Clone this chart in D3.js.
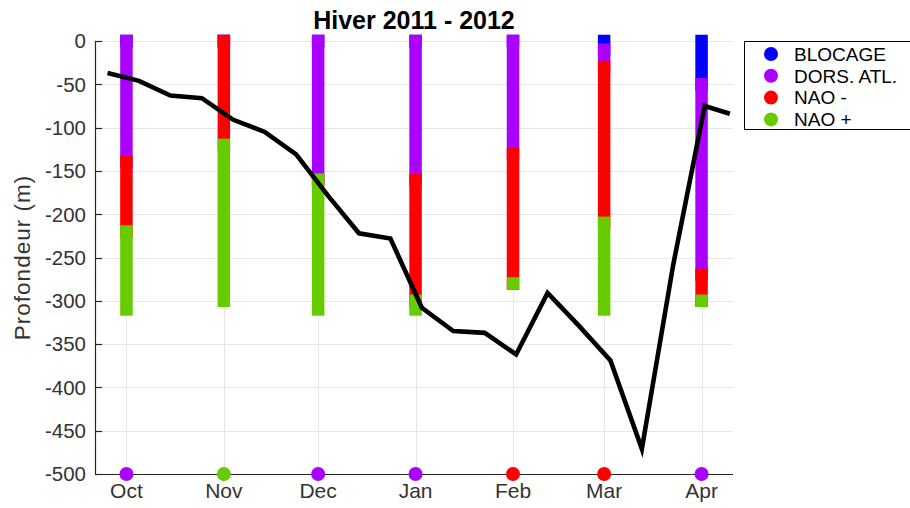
<!DOCTYPE html>
<html>
<head>
<meta charset="utf-8">
<script src="https://cdn.jsdelivr.net/npm/d3@7"></script>
<style>
  html, body { margin: 0; padding: 0; background: #fff; }
  svg { display: block; font-family: "Liberation Sans", Arial, Helvetica, sans-serif; }
</style>
</head>
<body>
<svg id="chart" width="910" height="508"></svg>
<script>
// Monthly weather-regime day counts, winter 2011-2012
const months = ["Oct", "Nov", "Dec", "Jan", "Feb", "Mar", "Apr"];
const monthStarts = ["2011-10-01", "2011-11-01", "2011-12-01", "2012-01-01", "2012-02-01", "2012-03-01", "2012-04-01"];
const regimes = ["BLOCAGE", "DORS. ATL.", "NAO -", "NAO +"];
const regimeColors = ["#0000ff", "#aa00ff", "#ff0000", "#66cc00"];
const blocage  = [0, 0, 0, 0, 0, 1, 5];
const dorsAtl  = [14, 0, 16, 16, 13, 2, 22];
const naoMoins = [8, 12, 0, 14, 15, 18, 3];
const naoPlus  = [9, 18, 15, 1, 0, 10, 0];
const metresPerDay = 10; // one regime day is drawn as 10 m of bar

// Mixed-layer depth every ten days (m)
const depthDates = ["2011-09-25", "2011-10-05", "2011-10-15", "2011-10-25", "2011-11-04", "2011-11-14",
  "2011-11-24", "2011-12-04", "2011-12-14", "2011-12-24", "2012-01-03", "2012-01-13", "2012-01-23",
  "2012-02-02", "2012-02-12", "2012-02-22", "2012-03-03", "2012-03-13", "2012-03-23", "2012-04-02", "2012-04-10"];
const depth = [-37, -46, -63, -66, -91, -105, -131, -178, -222, -228, -308, -335, -337,
  -362, -291, -329, -369, -471, -258, -75, -84];

const yTicks = d3.range(-500, 1, 50);
const title = "Hiver 2011 - 2012";
const yTitle = "Profondeur (m)";

const svg = d3.select("#chart");
const parse = d3.utcParse("%Y-%m-%d");
const plotLeft = 95, plotRight = 733, plotTop = 41, plotBottom = 474;

const x = d3.scaleUtc()
  .domain([parse("2011-09-21"), parse("2012-04-11")])
  .range([plotLeft, plotRight]);
const y = d3.scaleLinear().domain([-500, 0]).range([plotBottom, plotTop]);

// grid
const grid = svg.append("g").attr("stroke", "#e6e6e6").attr("stroke-width", 1);
grid.selectAll("line.h").data(yTicks).join("line").attr("class", "h")
  .attr("x1", plotLeft).attr("x2", plotRight)
  .attr("y1", d => Math.round(y(d)) + 0.5).attr("y2", d => Math.round(y(d)) + 0.5);
grid.selectAll("line.v").data(monthStarts).join("line").attr("class", "v")
  .attr("x1", d => Math.round(x(parse(d))) + 0.5).attr("x2", d => Math.round(x(parse(d))) + 0.5)
  .attr("y1", plotTop).attr("y2", plotBottom);

// stacked regime bars: each segment is a thick stroke with square caps
const series = [blocage, dorsAtl, naoMoins, naoPlus];
const barW = 12.5, cap = barW / 2;
const bars = svg.append("g");
months.forEach((m, i) => {
  let acc = 0;
  series.forEach((s, k) => {
    const start = -acc * metresPerDay;
    acc += s[i];
    const end = -acc * metresPerDay;
    const cx = x(parse(monthStarts[i]));
    const y0 = y(start) - cap, y1 = y(end) + cap;
    bars.append("rect")
      .attr("x", cx - barW / 2).attr("width", barW)
      .attr("y", y0).attr("height", y1 - y0)
      .attr("fill", regimeColors[k]);
  });
});

// depth line
const line = d3.line()
  .x((d, i) => x(parse(depthDates[i])))
  .y(d => y(d));
svg.append("path")
  .datum(depth)
  .attr("d", line)
  .attr("fill", "none")
  .attr("stroke", "#000")
  .attr("stroke-width", 4.6)
  .attr("stroke-linejoin", "miter");

// axes
const axisColor = "#262626";
svg.append("line").attr("x1", plotLeft + 0.5).attr("x2", plotLeft + 0.5).attr("y1", plotTop).attr("y2", plotBottom)
  .attr("stroke", axisColor).attr("stroke-width", 1.2);
svg.append("line").attr("x1", plotLeft).attr("x2", plotRight).attr("y1", plotBottom + 0.5).attr("y2", plotBottom + 0.5)
  .attr("stroke", axisColor).attr("stroke-width", 1.2);
svg.append("g").selectAll("line").data(yTicks).join("line")
  .attr("x1", plotLeft).attr("x2", plotLeft + 7)
  .attr("y1", d => Math.round(y(d)) + 0.5).attr("y2", d => Math.round(y(d)) + 0.5)
  .attr("stroke", axisColor).attr("stroke-width", 1.2);
svg.append("g").selectAll("text").data(yTicks).join("text")
  .attr("x", 86).attr("y", d => y(d)).attr("dy", "0.36em")
  .attr("text-anchor", "end").attr("font-size", 20.5).attr("fill", "#333")
  .text(d => d);
svg.append("g").selectAll("text").data(months).join("text")
  .attr("x", (d, i) => x(parse(monthStarts[i]))).attr("y", 498)
  .attr("text-anchor", "middle").attr("font-size", 21).attr("fill", "#333")
  .text(d => d);

// dominant regime marker per month
svg.append("g").selectAll("circle").data(months).join("circle")
  .attr("cx", (d, i) => x(parse(monthStarts[i])))
  .attr("cy", y(-500))
  .attr("r", 7)
  .attr("fill", (d, i) => {
    const vals = series.map(s => s[i]);
    return regimeColors[vals.indexOf(d3.max(vals))];
  });

// titles
svg.append("text").attr("x", (plotLeft + plotRight) / 2).attr("y", 29)
  .attr("text-anchor", "middle").attr("font-size", 25).attr("font-weight", "bold")
  .attr("fill", "#000").text(title);
svg.append("text").attr("transform", `translate(30,${(plotTop + plotBottom) / 2}) rotate(-90)`)
  .attr("text-anchor", "middle").attr("font-size", 22.5).attr("letter-spacing", 1)
  .attr("fill", "#333")
  .text(yTitle);

// legend
const lg = svg.append("g");
lg.append("rect").attr("x", 744.5).attr("y", 41.5).attr("width", 180).attr("height", 88)
  .attr("fill", "#fff").attr("stroke", "#000").attr("stroke-width", 1);
regimes.forEach((r, k) => {
  const cy = 54 + k * 21.8;
  lg.append("circle").attr("cx", 771).attr("cy", cy).attr("r", 7).attr("fill", regimeColors[k]);
  lg.append("text").attr("x", 794).attr("y", cy).attr("dy", "0.36em")
    .attr("font-size", 19).attr("fill", "#000").text(r);
});
</script>
</body>
</html>
